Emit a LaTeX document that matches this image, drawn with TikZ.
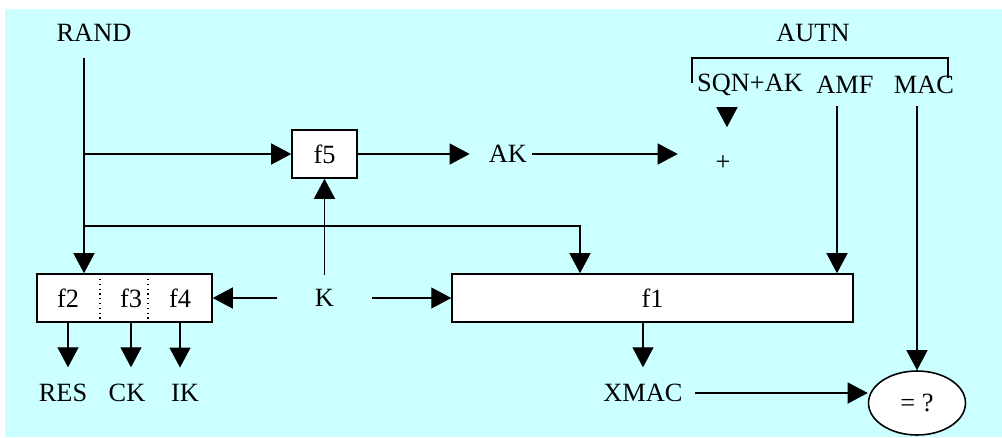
\documentclass[tikz,border=0pt]{standalone}
\usepackage{fontspec}
\setmainfont{Liberation Serif}
\usetikzlibrary{arrows.meta,shapes.geometric}
\definecolor{bgcyan}{HTML}{CCFFFF}
\tikzset{
  fbox/.style={rectangle, draw, line width=0.9pt, fill=white,
               font=\fontsize{15}{18}\selectfont, minimum height=0.96cm,
               inner sep=0pt},
  lbl/.style={font=\fontsize{15}{18}\selectfont, inner sep=0pt},
  arrow/.style={-{Triangle[length=0.4cm,width=0.42cm]}, line width=0.75pt},
  bracket/.style={line width=1.6pt}
}

\begin{document}
\begin{tikzpicture}[x=0.02cm, y=-0.02cm,
  cmpbox/.style={ellipse, draw, line width=0.9pt, fill=white,
                 font=\fontsize{15}{18}\selectfont, minimum width=1.94cm,
                 minimum height=1.28cm, inner sep=0pt}]
  \useasboundingbox (0,0) rectangle (1002,437);
  \fill[bgcyan] (5,9) rectangle (1002,437);
  \node[lbl] (rand) at (94,33) {RAND};
  \node[lbl] (autn) at (813,33) {AUTN};
  \node[lbl] (sqn) at (750,85) {SQN+AK};
  \node[lbl] (amf) at (845,85) {AMF};
  \node[lbl] (mac) at (924,85) {MAC};
  \node[fbox, minimum width=1.3cm] (f5) at (324.5,154) {f5};
  \node[lbl] (ak) at (508,154) {AK};
  \node[lbl] (plus) at (723,163) {+};
  \node[fbox, minimum width=3.5cm] (fbank) at (124.5,298) {};
  \node[lbl] (f2) at (68,298) {f2};
  \node[lbl] (f3) at (131,298) {f3};
  \node[lbl] (f4) at (180,298) {f4};
  \node[lbl, minimum width=1.9cm, minimum height=0.92cm] (k) at (324.5,298) {K};
  \node[fbox, minimum width=8.02cm] (f1) at (652.5,298) {f1};
  \node[lbl] (res) at (63,393) {RES};
  \node[lbl] (ck) at (127,393) {CK};
  \node[lbl] (ik) at (185,393) {IK};
  \node[lbl] (xmac) at (643,393) {XMAC};
  \node[cmpbox] (eq) at (917,403) {= ?};
  \coordinate (rtop) at (84,58);
  \coordinate (rsplit1) at (84,154);
  \coordinate (rsplit2) at (84,226);
  \coordinate (f1in) at (580,226);
  \coordinate (sqnout) at (727,107);
  \coordinate (amfout) at (837,106);
  \coordinate (macout) at (917,106);
  \draw[bracket] (692,83) -- (692,58) -- (948,58) -- (948,78);
  \draw[dotted, line width=0.75pt] (100,274) -- (100,322);
  \draw[dotted, line width=0.75pt] (148,274) -- (148,322);
  \draw[arrow] (rtop) -- (rtop |- fbank.north);
  \draw[arrow] (rsplit1) -- (f5.west);
  \draw[arrow] (rsplit2) -- (f1in) -- (f1in |- f1.north);
  \draw[arrow] (k.north) -- (f5.south);
  \draw[arrow] (k.west) -- (fbank.east);
  \draw[arrow] (k.east) -- (f1.west);
  \draw[arrow, shorten >=0.38cm] (f5.east) -- (ak.west);
  \draw[arrow, shorten <=0.1cm, shorten >=0.75cm] (ak.east) -- (ak.east -| plus.west);
  \draw[arrow, shorten >=0.56cm] (sqnout) -- (sqnout |- plus.north);
  \draw[arrow] (amfout) -- (amfout |- f1.north);
  \draw[arrow] (macout) -- (eq.north);
  \draw[arrow, shorten >=0.33cm] (f2 |- fbank.south) -- (f2 |- res.north);
  \draw[arrow, shorten >=0.33cm] (f3 |- fbank.south) -- (f3 |- ck.north);
  \draw[arrow, shorten >=0.33cm] (f4 |- fbank.south) -- (f4 |- ik.north);
  \draw[arrow, shorten >=0.33cm] (xmac |- f1.south) -- (xmac.north);
  \draw[arrow, shorten <=0.25cm] (xmac.east) -- (xmac.east -| eq.west);
\end{tikzpicture}
\end{document}
